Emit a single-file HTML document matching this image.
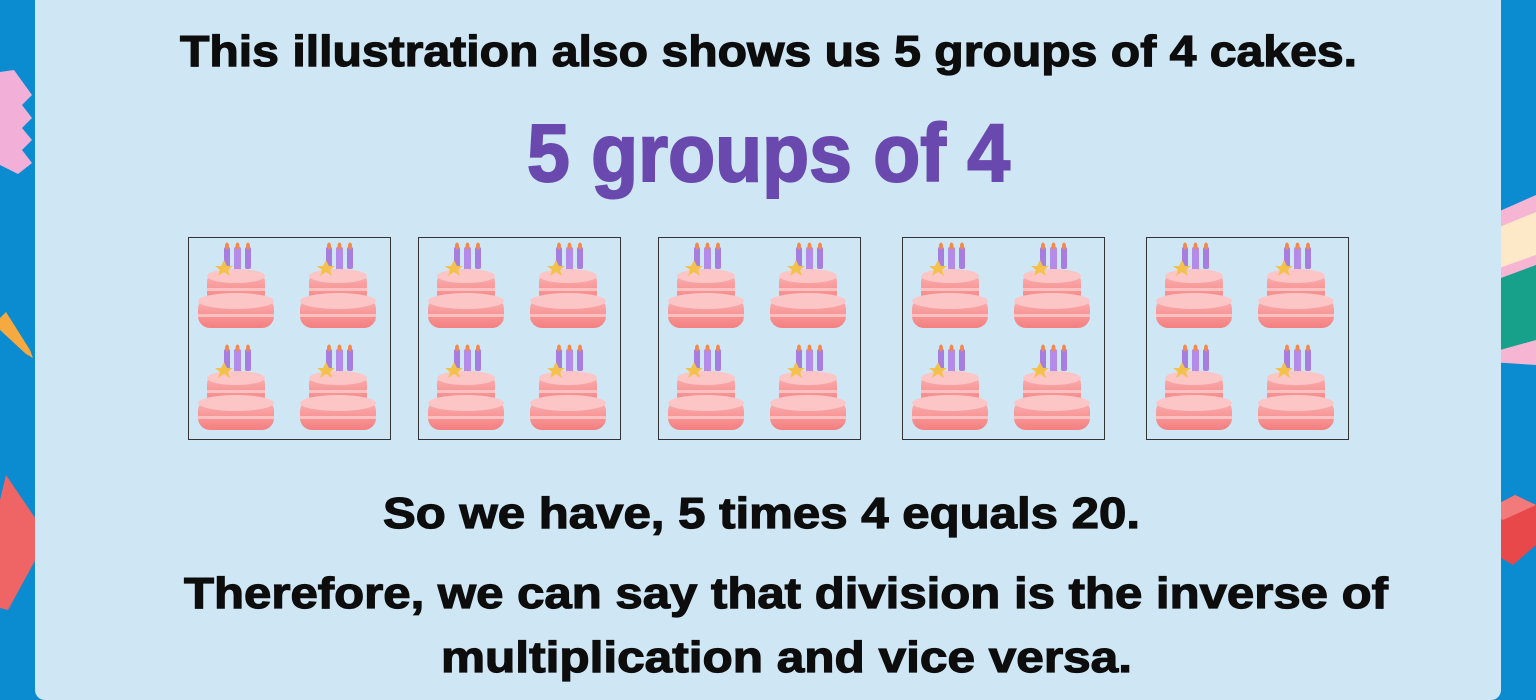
<!DOCTYPE html>
<html><head><meta charset="utf-8"><style>
html,body{margin:0;padding:0;width:1536px;height:700px;overflow:hidden;background:#0b8bd0;}
svg{display:block}
text{font-family:"Liberation Sans",sans-serif;font-weight:bold;stroke-width:1.2;}
</style></head><body>
<svg width="1536" height="700" viewBox="0 0 1536 700">
<defs>
<linearGradient id="tierG" x1="0" y1="0" x2="0" y2="1"><stop offset="0" stop-color="#fbb3b3"/><stop offset="1" stop-color="#f47f80"/></linearGradient>
<g id="cake">
 <rect x="26" y="4" width="6" height="22" rx="2" fill="#a77ee0"/>
 <rect x="36" y="4" width="7" height="24" rx="2" fill="#b48be8"/>
 <rect x="47" y="4" width="6" height="22" rx="2" fill="#a77ee0"/>
 <ellipse cx="29" cy="3" rx="2" ry="3.5" fill="#f2884a"/><ellipse cx="39.5" cy="3" rx="2" ry="3.5" fill="#f2884a"/><ellipse cx="50" cy="3" rx="2" ry="3.5" fill="#f2884a"/>
 <rect x="9" y="29" width="58" height="32" rx="10" fill="url(#tierG)"/>
 <ellipse cx="38" cy="33" rx="29" ry="7" fill="#fcc6c6"/>
 <rect x="9" y="45" width="58" height="3" fill="#fbc0c0"/>
 <polygon points="26,17 29,23 35,23 30,27 32,33 26,29 20,33 22,27 17,23 23,23" fill="#f5c14d"/>
 <rect x="0" y="54" width="76" height="31" rx="12" fill="url(#tierG)"/>
 <ellipse cx="38" cy="58" rx="38" ry="8" fill="#fcc6c6"/>
 <rect x="0" y="71" width="76" height="3" fill="#fbc0c0"/>
</g>
</defs>
<g>
 <polygon points="0,72 14,70 32,95 22,105 32,118 22,128 32,140 22,150 32,163 18,174 0,165" fill="#f2b0d8"/>
</g>
<polygon points="0,318 6,312 30,350 33,358 26,354 0,330" fill="#f6a93e"/>
<polygon points="0,500 6,475 48,537 8,610 0,608" fill="#ef6566"/>
<g>
 <polygon points="1468,225 1536,195 1536,365 1490,362" fill="#f6b5d3"/>
 <polygon points="1480,235 1536,212 1536,255 1488,272" fill="#fde8c8"/>
 <polygon points="1490,282 1536,265 1536,340 1500,350" fill="#17a08a"/>
</g>
<g>
 <polygon points="1482,512 1515,495 1536,505 1536,545 1513,565 1484,548" fill="#e8484a"/>
 <polygon points="1482,512 1515,495 1536,505 1503,520" fill="#f27a7a"/>
</g>
<rect x="35" y="-10" width="1466" height="710" rx="10" fill="#cfe7f5"/>
<text x="180" y="66" font-size="44" textLength="1177" lengthAdjust="spacingAndGlyphs" fill="#0d0d0d" stroke="#0d0d0d">This illustration also shows us 5 groups of 4 cakes.</text>
<text x="527" y="181" font-size="82" textLength="483" lengthAdjust="spacingAndGlyphs" fill="#6a49ae" stroke="#6a49ae" style="stroke-width:2">5 groups of 4</text>
<g id="groups"></g>
<text x="383" y="528" font-size="44" textLength="757" lengthAdjust="spacingAndGlyphs" fill="#0d0d0d" stroke="#0d0d0d">So we have, 5 times 4 equals 20.</text>
<text x="184" y="608" font-size="44" textLength="1204" lengthAdjust="spacingAndGlyphs" fill="#0d0d0d" stroke="#0d0d0d">Therefore, we can say that division is the inverse of</text>
<text x="441" y="672" font-size="44" textLength="691" lengthAdjust="spacingAndGlyphs" fill="#0d0d0d" stroke="#0d0d0d">multiplication and vice versa.</text>
</svg>
<script>
const groupCount = 5;
const cakesPerGroup = 4;
const NS='http://www.w3.org/2000/svg';
const boxX=[188,418,658,902,1146];
const g=document.getElementById('groups');
for(let i=0;i<groupCount;i++){
  const box=document.createElementNS(NS,'rect');
  box.setAttribute('x',boxX[i]+0.5);box.setAttribute('y',237.5);
  box.setAttribute('width',202);box.setAttribute('height',202);
  box.setAttribute('fill','none');box.setAttribute('stroke','#333');box.setAttribute('stroke-width','1');
  
  
  g.appendChild(box);
  for(let j=0;j<cakesPerGroup;j++){
    const u=document.createElementNS(NS,'use');
    u.setAttribute('href','#cake');
    const cx=boxX[i]+10+(j%2)*102, cy=243+Math.floor(j/2)*102;
    u.setAttribute('x',cx);u.setAttribute('y',cy);
    
    
    g.appendChild(u);
  }
}
</script>
</body></html>
